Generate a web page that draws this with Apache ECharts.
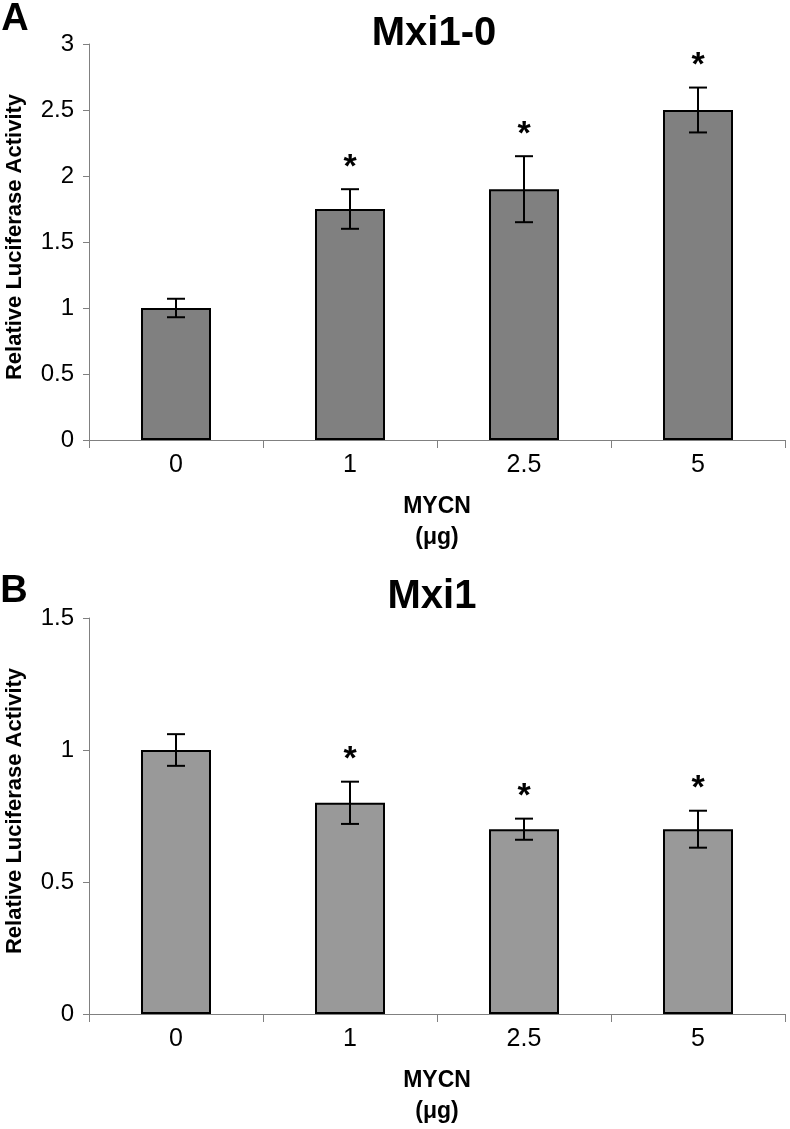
<!DOCTYPE html>
<html>
<head>
<meta charset="utf-8">
<script src="https://cdn.jsdelivr.net/npm/echarts@6/dist/echarts.min.js"></script>
<style>
html,body{margin:0;padding:0;background:#fff;}
#c{width:790px;height:1129px;}
</style>
</head>
<body>
<div id="c"></div>
<script>
var categories = ['0', '1', '2.5', '5'];
var mxi10Mean = [1.0, 1.75, 1.9, 2.5];
var mxi10Err = [0.07, 0.15, 0.25, 0.17];
var mxi10Sig = [0, 1, 1, 1];
var mxi1Mean = [1.0, 0.8, 0.7, 0.7];
var mxi1Err = [0.06, 0.08, 0.04, 0.07];
var mxi1Sig = [0, 1, 1, 1];
var yTicksA = [0, 0.5, 1, 1.5, 2, 2.5, 3];
var yTicksB = [0, 0.5, 1, 1.5];

var SANS = '"Liberation Sans",Arial,sans-serif';

var chart = echarts.init(document.getElementById('c'), null, {renderer: 'canvas'});

function errData(mean, err, sig) {
  return mean.map(function (m, i) { return [i, m - err[i], m + err[i], sig[i]]; });
}

function renderErr(params, api) {
  var i = api.value(0);
  var lo = api.coord([i, api.value(1)]);
  var hi = api.coord([i, api.value(2)]);
  var x = lo[0];
  var half = 9;
  var st = {stroke: '#000', lineWidth: 2};
  var children = [
    {type: 'line', shape: {x1: x, y1: lo[1], x2: x, y2: hi[1]}, style: st},
    {type: 'line', shape: {x1: x - half, y1: lo[1], x2: x + half, y2: lo[1]}, style: st},
    {type: 'line', shape: {x1: x - half, y1: hi[1], x2: x + half, y2: hi[1]}, style: st}
  ];
  if (api.value(3)) {
    children.push({
      type: 'text',
      style: {text: '*', x: x, y: hi[1] - 22, textAlign: 'center', textVerticalAlign: 'middle',
        fontSize: 34, fontWeight: 'bold', fontFamily: SANS, fill: '#000'}
    });
  }
  return {type: 'group', children: children};
}

function xAxisCfg(idx) {
  return {
    type: 'category', gridIndex: idx, data: categories, boundaryGap: true,
    axisLine: {lineStyle: {color: '#808080', width: 1}},
    axisTick: {show: true, length: 8, alignWithLabel: false, lineStyle: {color: '#808080'}},
    axisLabel: {margin: 13, fontSize: 25, fontFamily: SANS, color: '#000'},
    splitLine: {show: false}
  };
}
function yAxisCfg(idx, max, ticks) {
  return {
    type: 'value', gridIndex: idx, min: 0, max: max, interval: 0.5,
    axisLine: {show: true, lineStyle: {color: '#808080', width: 1}},
    axisTick: {show: true, length: 6, lineStyle: {color: '#808080'}},
    axisLabel: {margin: 15, fontSize: 24, fontFamily: SANS, color: '#000',
      formatter: function (v) { return ticks.indexOf(v) >= 0 ? String(v) : ''; }},
    splitLine: {show: false}
  };
}

function txt(x, y, s, size, extra) {
  var o = {type: 'text', x: x, y: y, style: {text: s, fontSize: size, fontWeight: 'bold', fontFamily: SANS,
    fill: '#000', textAlign: 'center', textVerticalAlign: 'middle'}};
  if (extra) { for (var k in extra) o[k] = extra[k]; }
  return o;
}

var option = {
  animation: false,
  backgroundColor: '#fff',
  grid: [
    {left: 89, right: 5, top: 44, height: 396},
    {left: 89, right: 5, top: 618, height: 396}
  ],
  xAxis: [xAxisCfg(0), xAxisCfg(1)],
  yAxis: [yAxisCfg(0, 3, yTicksA), yAxisCfg(1, 1.5, yTicksB)],
  graphic: [
    txt(15, 20, 'A', 38),
    txt(14, 592, 'B', 38),
    txt(434, 34, 'Mxi1-0', 40),
    txt(432, 597, 'Mxi1', 40),
    txt(15, 237, 'Relative Luciferase Activity', 22, {rotation: Math.PI / 2}),
    txt(15, 811, 'Relative Luciferase Activity', 22, {rotation: Math.PI / 2}),
    txt(437, 507, 'MYCN', 23),
    txt(437, 538, '(\u03bcg)', 23),
    txt(437, 1081, 'MYCN', 23),
    txt(437, 1112, '(\u03bcg)', 23)
  ],
  series: [
    {type: 'bar', xAxisIndex: 0, yAxisIndex: 0, data: mxi10Mean, barWidth: 70,
      itemStyle: {color: '#808080', borderColor: '#000', borderWidth: 2}},
    {type: 'custom', xAxisIndex: 0, yAxisIndex: 0, data: errData(mxi10Mean, mxi10Err, mxi10Sig),
      renderItem: renderErr, z: 5},
    {type: 'bar', xAxisIndex: 1, yAxisIndex: 1, data: mxi1Mean, barWidth: 70,
      itemStyle: {color: '#999999', borderColor: '#000', borderWidth: 2}},
    {type: 'custom', xAxisIndex: 1, yAxisIndex: 1, data: errData(mxi1Mean, mxi1Err, mxi1Sig),
      renderItem: renderErr, z: 5}
  ]
};
chart.setOption(option);
</script>
</body>
</html>
